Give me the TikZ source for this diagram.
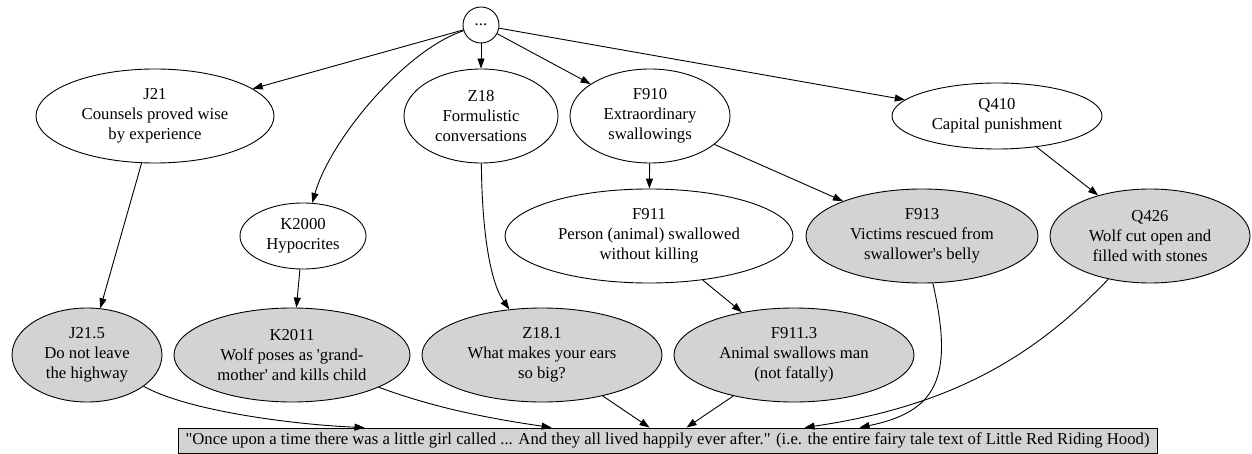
\documentclass[tikz,border=0pt]{standalone}
\usepackage{fontspec}
\setmainfont{Liberation Serif}
\usetikzlibrary{arrows.meta,shapes.geometric}
\definecolor{lgray}{HTML}{D3D3D3}
\begin{document}
\begin{tikzpicture}[x=1pt,y=-1pt,
  every node/.style={font=\fontsize{16.7}{20}\selectfont, align=center, inner sep=0pt},
  ell/.style={ellipse, draw, line width=0.9pt},
  fact/.style={ell, fill=lgray},
  edge/.style={line width=0.9pt, -{Triangle[length=10pt,width=7pt]}}]
\useasboundingbox (0,0) rectangle (1252,454);
\node[circle, draw, line width=0.9pt, minimum size=36pt] (top) at (481,25) {...};
\node[ell, minimum width=238pt, minimum height=94pt] (j21) at (155,116) {J21\\Counsels proved wise\\by experience};
\node[ell, minimum width=154pt, minimum height=94pt] (z18) at (481,116) {Z18\\Formulistic\\conversations};
\node[ell, minimum width=160pt, minimum height=94pt] (f910) at (650,116) {F910\\Extraordinary\\swallowings};
\node[ell, minimum width=210pt, minimum height=66pt] (q410) at (997,116) {Q410\\Capital punishment};
\node[ell, minimum width=126pt, minimum height=66pt] (k2000) at (303,236) {K2000\\Hypocrites};
\node[ell, minimum width=288pt, minimum height=94pt] (f911) at (649,236) {F911\\Person (animal) swallowed\\without killing};
\node[fact, minimum width=232pt, minimum height=94pt] (f913) at (922,236) {F913\\Victims rescued from\\swallower\textquotesingle s belly};
\node[fact, minimum width=200pt, minimum height=94pt] (q426) at (1150,236) {Q426\\Wolf cut open and\\filled with stones};
\node[fact, minimum width=150pt, minimum height=94pt] (j215) at (87,355) {J21.5\\Do not leave\\the highway};
\node[fact, minimum width=236pt, minimum height=94pt] (k2011) at (292,355) {K2011\\Wolf poses as \textquotesingle grand-\\mother\textquotesingle{} and kills child};
\node[fact, minimum width=240pt, minimum height=94pt] (z181) at (542,355) {Z18.1\\What makes your ears\\so big?};
\node[fact, minimum width=240pt, minimum height=94pt] (f9113) at (794,355) {F911.3\\Animal swallows man\\(not fatally)};
\node[draw, fill=lgray, line width=0.9pt, minimum width=979pt, minimum height=25pt] (text) at (667.5,440.5)
  {\textquotedbl Once upon a time there was a little girl called ... And they all lived happily ever after.\textquotedbl{} (i.e. the entire fairy tale text of Little Red Riding Hood)};
\draw[edge] (top) -- (j21);
\draw[edge] (top) .. controls (405,50) and (330,140) .. (k2000);
\draw[edge] (top) -- (z18);
\draw[edge] (top) -- (f910);
\draw[edge] (top) -- (q410);
\draw[edge] (j21) -- (j215);
\draw[edge] (k2000) -- (k2011);
\draw[edge] (z18) .. controls (482,240) and (492,285) .. (z181);
\draw[edge] (f910) -- (f911);
\draw[edge] (f910) -- (f913);
\draw[edge] (f911) -- (f9113);
\draw[edge] (q410) -- (q426);
\draw[edge] (j215) .. controls (190,412) and (300,425) .. ([xshift=187pt]text.north west);
\draw[edge] (k2011) .. controls (440,410) and (500,420) .. ([xshift=374pt]text.north west);
\draw[edge] (z181) -- ([xshift=472pt]text.north west);
\draw[edge] (f9113) -- ([xshift=509pt]text.north west);
\draw[edge] (f913) .. controls (955,380) and (935,412) .. ([xshift=682pt]text.north west);
\draw[edge] (q426) .. controls (1040,350) and (960,405) .. ([xshift=627pt]text.north west);
\end{tikzpicture}
\end{document}
